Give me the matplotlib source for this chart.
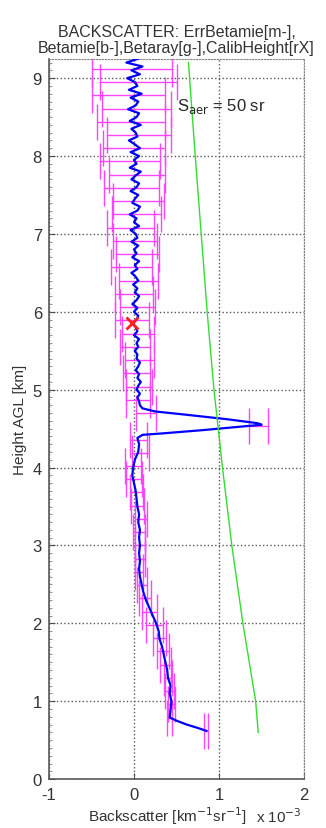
import numpy as np
import matplotlib
matplotlib.use('Agg')
from matplotlib import pyplot as plt
from matplotlib.ticker import MultipleLocator

plt.rcParams['font.family'] = ['Liberation Sans', 'DejaVu Sans']
plt.rcParams['axes.unicode_minus'] = False

# Betamie (blue), lower part read point by point [km, 1e-3 /km/sr]
low_h = [0.62, 0.66, 0.70, 0.75, 0.79, 0.90, 1.00, 1.10, 1.20, 1.30, 1.40, 1.50,
         1.60, 1.70, 1.80, 1.90, 2.00, 2.10, 2.20, 2.30, 2.40, 2.50, 2.60, 2.70,
         2.80, 2.90, 3.00, 3.10, 3.20, 3.30, 3.40, 3.50, 3.60, 3.70, 3.80, 3.90,
         4.00, 4.10, 4.20, 4.30, 4.38, 4.42, 4.44, 4.48, 4.52, 4.55, 4.57, 4.62,
         4.68, 4.72, 4.76, 4.80]
low_b = [0.85, 0.74, 0.62, 0.50, 0.42, 0.43, 0.44, 0.42, 0.43, 0.40, 0.39, 0.37,
         0.35, 0.33, 0.30, 0.29, 0.26, 0.22, 0.18, 0.14, 0.11, 0.09, 0.07, 0.06,
         0.07, 0.06, 0.07, 0.06, 0.07, 0.05, 0.06, 0.04, 0.03, 0.02, 0.00, -0.02,
         -0.01, 0.01, 0.05, 0.06, 0.04, 0.10, 0.35, 0.80, 1.20, 1.50, 1.45, 1.10,
         0.60, 0.25, 0.10, 0.07]

# upper noisy part, every 50 m from 4.85 km
up_h = np.arange(4.85, 9.26, 0.05)
up_b = [0.06, 0.04, 0.07, 0.03, 0.05, 0.08, 0.04, 0.06, 0.02, 0.05,
        0.07, 0.03, 0.04, 0.01, 0.05, 0.03, 0.06, 0.00, 0.04, 0.02,
        -0.01, 0.03, 0.05, 0.00, 0.04, -0.02, 0.03, 0.06, 0.01, 0.04,
        -0.01, 0.05, 0.02, -0.03, 0.04, 0.01, 0.06, -0.02, 0.03, 0.00,
        0.05, -0.03, 0.04, 0.02, -0.04, 0.06, 0.00, 0.03, -0.05, 0.04,
        0.07, -0.02, 0.01, 0.05, -0.04, 0.03, 0.06, -0.03, 0.02, 0.08,
        -0.05, 0.03, 0.00, 0.06, -0.04, 0.07, 0.01, -0.06, 0.04, 0.02,
        -0.03, 0.08, -0.05, 0.03, 0.06, -0.07, 0.02, 0.05, -0.04, 0.09,
        -0.06, 0.04, 0.01, -0.08, 0.07, -0.03, 0.10, -0.09, 0.05]

# Betaray (green)
ray_h = [0.6, 1.0, 2.0, 3.0, 4.0, 5.0, 6.0, 7.0, 8.0, 9.2]
ray_b = [1.46, 1.43, 1.28, 1.15, 1.04, 0.94, 0.86, 0.79, 0.72, 0.64]

# ErrBetamie (magenta)
err_h = [0.62, 0.79, 0.96, 1.13, 1.30, 1.47, 1.64, 1.81, 1.98, 2.15, 2.32, 2.49,
         2.66, 2.83, 3.00, 3.17, 3.34, 3.51, 3.68, 3.85, 4.02, 4.19, 4.36, 4.53,
         4.70, 4.87, 5.04, 5.21, 5.38, 5.55, 5.72, 5.89, 6.06, 6.23, 6.40, 6.57,
         6.74, 6.91, 7.08, 7.25, 7.42, 7.59, 7.76, 7.93, 8.10, 8.27, 8.44, 8.61,
         8.78, 8.95, 9.12]
err_c = [0.85, 0.42, 0.44, 0.42, 0.40, 0.37, 0.34, 0.30, 0.24, 0.18, 0.13, 0.09,
         0.06, 0.07, 0.07, 0.06, 0.08, 0.04, 0.03, 0.00, -0.01, 0.08, 0.05, 1.46,
         0.14, 0.05, 0.06, 0.03, 0.06, 0.01, 0.05, -0.02, 0.04, 0.00, 0.05, -0.03,
         0.04, 0.01, -0.04, 0.03, 0.05, -0.03, 0.04, -0.05, 0.00, 0.06, -0.04,
         0.03, -0.06, 0.05, -0.02]
err_w = [0.025, 0.03, 0.04, 0.05, 0.05, 0.06, 0.07, 0.08, 0.10, 0.09, 0.07, 0.06,
         0.05, 0.06, 0.06, 0.07, 0.07, 0.08, 0.08, 0.09, 0.09, 0.10, 0.10, 0.11,
         0.12, 0.14, 0.15, 0.16, 0.17, 0.18, 0.19, 0.20, 0.21, 0.22, 0.23, 0.24,
         0.25, 0.26, 0.28, 0.29, 0.30, 0.32, 0.33, 0.35, 0.36, 0.38, 0.40, 0.41,
         0.43, 0.45, 0.47]

calib_h = 5.86
calib_b = -0.02
s_aer = 50

fig = plt.figure(figsize=(3.26, 8.29), dpi=100)
ax = fig.add_axes([0.150, 0.059, 0.783, 0.869])

ax.errorbar(err_c, err_h, xerr=err_w, fmt='none', ecolor='#ff44ff',
            elinewidth=1.0, capsize=13, capthick=1.0, zorder=2)
ax.plot(low_b + up_b, low_h + list(up_h), color='#0000ff', lw=1.6, zorder=3)
ax.plot(ray_b, ray_h, color='#33dd33', lw=1.0, zorder=3)
ax.plot(calib_b, calib_h, 'x', color='#ff2020', ms=9, mew=2, zorder=4)

ax.text(0.5, 8.65, r'S$_\mathrm{aer}$ = %d sr' % s_aer, fontsize=12, va='center', ha='left',
        color='0.15')

ax.set_xlim(-1, 2)
ax.set_ylim(0, 9.25)
ax.set_xticks([-1, 0, 1, 2])
ax.set_yticks(range(10))
ax.yaxis.set_minor_locator(MultipleLocator(0.1))
ax.tick_params(axis='both', labelsize=12, direction='in', length=4, color='0.3',
               labelcolor='0.2')
ax.tick_params(axis='x', pad=6)
ax.tick_params(axis='y', pad=5)
ax.tick_params(axis='y', which='minor', direction='in', length=2, color='0.5')
ax.grid(True, linestyle=':', color='0.35', lw=1.0)
for s in ['top', 'right']:
    ax.spines[s].set_linestyle(':')
    ax.spines[s].set_color('0.5')
for s in ['left', 'bottom']:
    ax.spines[s].set_color('0.35')
    ax.spines[s].set_linewidth(1.2)

ax.set_title('BACKSCATTER: ErrBetamie[m-],\nBetamie[b-],Betaray[g-],CalibHeight[rX]',
             fontsize=11.5, color='0.2', linespacing=1.05, pad=5)
ax.set_ylabel('Height AGL [km]', fontsize=11, color='0.2', labelpad=4)
fig.text(0.27, 0.002, r'Backscatter [km$^{-1}$sr$^{-1}$]', fontsize=11, color='0.2',
         va='bottom', ha='left')
fig.text(0.785, 0.004, r'x 10$^{-3}$', fontsize=11, color='0.2', va='bottom', ha='left')

fig.savefig('out.png', dpi=100)
